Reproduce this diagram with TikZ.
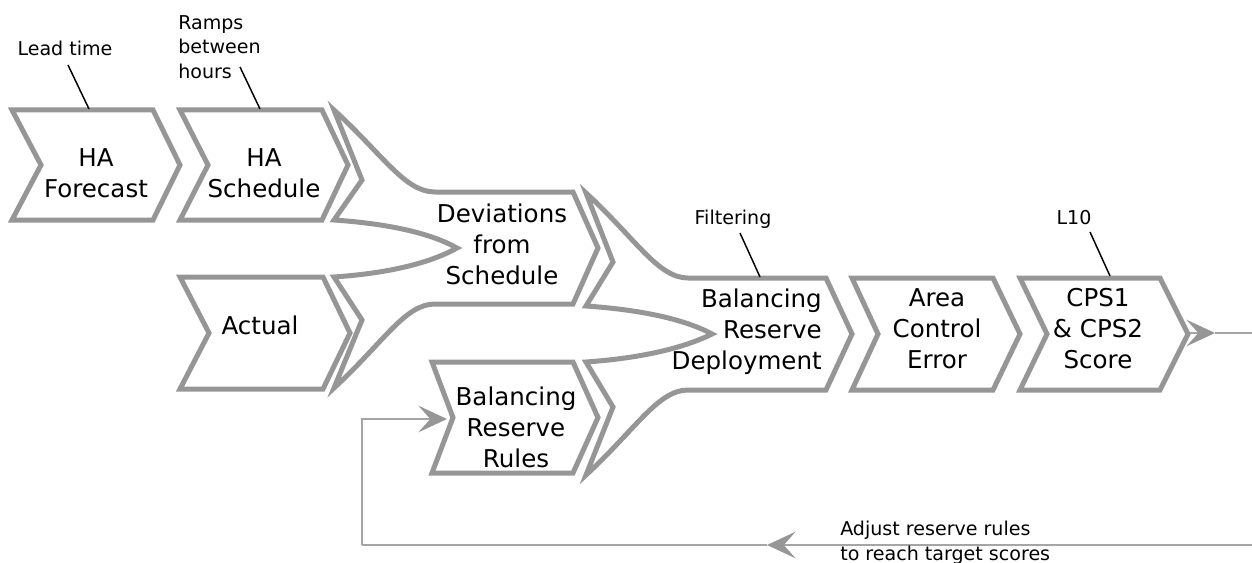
\documentclass[tikz,border=0pt]{standalone}
\usepackage{fontspec}
\setmainfont{DejaVu Sans}
\usetikzlibrary{arrows.meta}
\definecolor{chevgray}{RGB}{150,150,150}
\definecolor{fbgray}{RGB}{165,165,165}
\tikzset{
  chev/.style={draw=chevgray, line width=3.75pt, line join=miter, miter limit=20},
  boxtext/.style={inner sep=0pt, align=center, font=\fontsize{18.4}{23.2}\selectfont},
  note/.style={inner sep=0pt, font=\fontsize{14.3}{18.4}\selectfont},
  leader/.style={draw=black, line width=1.1pt},
  fb/.style={draw=fbgray, line width=1.5pt},
  fbtip/.style={-{Stealth[length=21.5pt, width=20pt, inset=9pt, color=chevgray]}}
}
% chevron: left, right, top, bottom, notch depth, tip depth
\newcommand\chevronbox[6]{%
  \draw[chev] (#1,#3) -- (#2,#3) -- ({#2+#6},{(#3+#4)/2}) -- (#2,#4) -- (#1,#4)
    -- ({#1+#5},{(#3+#4)/2}) -- cycle;}
\begin{document}
\begin{tikzpicture}[x=0.75pt, y=-0.75pt]
\useasboundingbox (0,0) rectangle (1252,563);

% plain chevrons
\chevronbox{12}{153}{110}{220}{29}{27}
\chevronbox{180}{322}{110}{220}{28}{26}
\chevronbox{180}{323}{277}{389}{29}{27}
\chevronbox{432}{573}{362}{473}{21}{25}
\chevronbox{852}{993}{278}{390}{26}{27}
\chevronbox{1020}{1160}{278}{390}{27}{28}

% merging chevron: deviations from schedule
\draw[chev] (334,110) .. controls (384,156) and (405,192) .. (435,192) -- (573,192)
  -- (598,248) -- (573,304) -- (435,304) .. controls (405,304) and (384,342) .. (334,388)
  -- (362,320) -- (334,277) .. controls (392,273) and (432,262) .. (457,248)
  .. controls (432,234) and (392,224) .. (334,220) -- (362,180) -- cycle;

% merging chevron: balancing reserve deployment
\draw[chev] (586,193) .. controls (636,239) and (658,278) .. (688,278) -- (826,278)
  -- (852,334) -- (826,390) -- (688,390) .. controls (658,390) and (636,429) .. (586,475)
  -- (613,407) -- (586,362) .. controls (644,358) and (686,347) .. (712,334)
  .. controls (686,320) and (644,310) .. (586,306) -- (613,262) -- cycle;

% box labels
\node[boxtext] (tFore)  at (96,173)  {HA\\Forecast};
\node[boxtext] (tSched) at (264,173) {HA\\Schedule};
\node[boxtext] (tAct)   at (260,325) {Actual};
\node[boxtext] (tDev)   at (502,244) {Deviations\\from\\Schedule};
\node[boxtext, align=right, anchor=east] (tBRD) at (822,332) {Balancing\\Reserve\\Deployment};
\node[boxtext] (tRules) at (516,427) {Balancing\\Reserve\\Rules};
\node[boxtext] (tACE)   at (937,329) {Area\\Control\\Error};
\node[boxtext] (tCPS)   at (1098,329) {CPS1\\\& CPS2\\Score};

% annotations with leader lines
\node[note] (tLead) at (65,48) {Lead time};
\node[note, align=left, anchor=west] (tRamps) at (178,47) {Ramps\\between\\hours};
\node[note] (tFilt) at (733,219) {Filtering};
\node[note] (tL10)  at (1074,218) {L10};
\coordinate (ld1) at (68,65);   \coordinate (ld2) at (89,109);
\coordinate (rp1) at (240,67);  \coordinate (rp2) at (260,109);
\coordinate (fl1) at (740,233); \coordinate (fl2) at (760,277);
\coordinate (lt1) at (1090,232); \coordinate (lt2) at (1110,276);
\draw[leader] (ld1) -- (ld2);
\draw[leader] (rp1) -- (rp2);
\draw[leader] (fl1) -- (fl2);
\draw[leader] (lt1) -- (lt2);

% feedback loop
\coordinate (stubA) at (1190,333);
\coordinate (stubB) at (1215,333);
\coordinate (stubC) at (1252,333);
\coordinate (fbR) at (1252,545);
\coordinate (fbMid) at (767,545);
\coordinate (fbL) at (362,545);
\coordinate (rulesIn) at (447,419);
\draw[fb, fbtip] (stubA) -- (stubB);
\draw[fb] (stubB) -- (stubC);
\draw[fb, fbtip] (fbR) -- (fbMid);
\draw[fb] (fbMid) -- (fbL);
\draw[fb, fbtip] (fbL) |- (rulesIn);
\node[note, align=left, anchor=west, font=\fontsize{14.3}{18.75}\selectfont] (tAdj) at (840,543)
  {Adjust reserve rules\\to reach target scores};
\end{tikzpicture}
\end{document}
